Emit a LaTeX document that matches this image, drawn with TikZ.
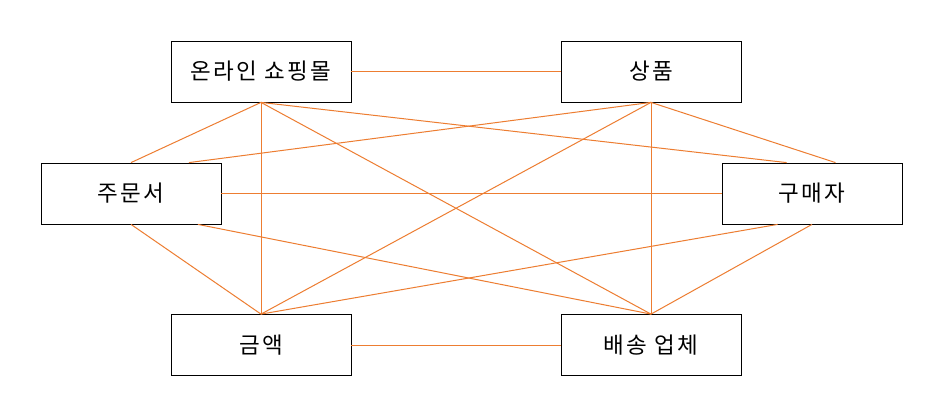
\documentclass[tikz,border=0pt]{standalone}
\usepackage{fontspec}
\setmainfont[LetterSpace=10]{Noto Sans CJK KR}
\usetikzlibrary{calc}
\definecolor{linkorange}{HTML}{ED7D31}

\tikzset{
  box/.style={draw, rectangle, line width=0.8pt, fill=white,
    minimum width=180pt, minimum height=61pt, inner sep=0pt,
    font=\fontsize{22.5}{26}\selectfont},
  link/.style={draw=linkorange, line width=1pt}
}

\begin{document}
\begin{tikzpicture}[x=1pt, y=-1pt]

\fill[white] (0,0) rectangle (929,413);
\useasboundingbox (0,0) rectangle (929,413);

\node[box] (mall) at (261,71.5) {온라인 쇼핑몰};

\node[box] (goods) at (651,71.5) {상품};

\node[box] (order) at (131,193.5) {주문서};

\node[box] (buyer) at (812,193.5) {구매자};

\node[box] (price) at (261,345) {금액};

\node[box] (ship) at (651,345) {배송 업체};

\draw[link] (mall) -- (goods);
\draw[link] (price) -- (ship);
\draw[link] (order) -- (buyer);
\draw[link] (mall.south) -- (price.north);
\draw[link] (goods.south) -- (ship.north);

\draw[link] (mall.south) -- (order.north);
\draw[link] (mall.south) -- ($(buyer.north west)!0.36!(buyer.north east)$);
\draw[link] (mall.south) -- (ship.north);
\draw[link] (goods.south) -- ($(order.north west)!0.82!(order.north east)$);
\draw[link] (goods.south) -- (price.north);
\draw[link] (goods.south) -- ($(buyer.north west)!0.63!(buyer.north east)$);
\draw[link] (order.south) -- (price.north);
\draw[link] ($(order.south west)!0.87!(order.south east)$) -- (ship.north);
\draw[link] ($(buyer.south west)!0.31!(buyer.south east)$) -- (price.north);
\draw[link] (buyer.south) -- (ship.north);

\end{tikzpicture}
\end{document}
